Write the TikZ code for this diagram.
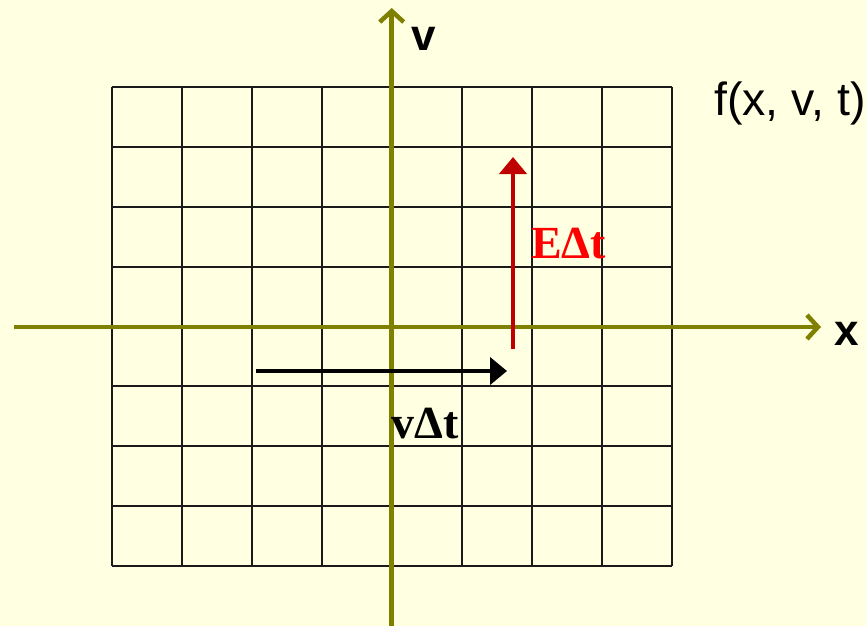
\documentclass[tikz,border=0pt]{standalone}
\usepackage{fontspec}
\setmainfont{Liberation Serif}
\setsansfont{Liberation Sans}
\usetikzlibrary{arrows.meta}
\definecolor{bgyellow}{HTML}{FFFFE1}
\definecolor{axisolive}{HTML}{808000}
\definecolor{darkred}{HTML}{C00000}
\definecolor{gridblack}{HTML}{1A1A1A}
\tikzset{
  gridline/.style={draw=gridblack, line width=2pt},
  axisline/.style={draw=axisolive, line width=4.5pt, -{Straight Barb[length=11pt,width=24pt,line width=4.5pt]}},
  vecarrow/.style={line width=4.8pt, -{Triangle[length=17pt,width=27pt]}},
  axislabel/.style={font=\sffamily\bfseries\fontsize{44}{48}\selectfont, inner sep=0pt, anchor=base},
  veclabel/.style={font=\rmfamily\bfseries\fontsize{46}{50}\selectfont, inner sep=0pt},
}
\begin{document}
\begin{tikzpicture}[x=1pt,y=-1pt]
\useasboundingbox[fill=bgyellow] (0,0) rectangle (866,626);
% grid
\foreach \i in {0,...,8} {
  \draw[gridline] ({111.7+70*\i},87) -- ({111.7+70*\i},565.7);
  \draw[gridline] (111.7,{87+59.84*\i}) -- (671.7,{87+59.84*\i});
}
% axes
\coordinate (xstart) at (14,327);
\coordinate (xend) at (821,327);
\coordinate (vstart) at (391.7,626);
\coordinate (vend) at (391.7,8);
\draw[axisline] (xstart) -- (xend);
\draw[axisline] (vstart) -- (vend);
\node[axislabel] (vlab) at (424,50) {v};
\node[axislabel] (xlab) at (847,345) {x};
\node[font=\sffamily\fontsize{46.5}{50}\selectfont, inner sep=0pt, anchor=base west] (flab) at (714,115) {f(x, v, t)};
% vectors
\coordinate (estart) at (513,349);
\coordinate (eend) at (513,157);
\draw[vecarrow, darkred] (estart) -- (eend);
\coordinate (vvstart) at (256,371);
\coordinate (vvend) at (507,371);
\draw[vecarrow, black] (vvstart) -- (vvend);
\node[veclabel, text=red, anchor=base west] (elab) at (531,258) {EΔt};
\node[veclabel, text=black, anchor=base] (vdtlab) at (425,438) {vΔt};
\end{tikzpicture}
\end{document}
